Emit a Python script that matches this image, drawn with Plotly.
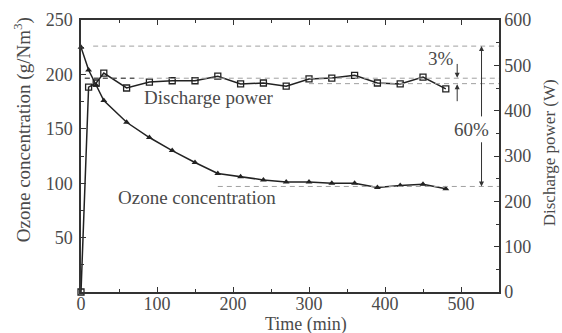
import plotly.graph_objects as go

# Data
time_min = [0, 10, 20, 30, 60, 90, 120, 150, 180, 210, 240, 270, 300, 330, 360, 390, 420, 450, 480]
ozone_conc = [225, 204, 190, 176, 156, 142, 130, 119, 109, 106, 103, 101, 101, 100, 100, 96, 98, 99, 95]
power_time = [0, 10, 20, 30, 60, 90, 120, 150, 180, 210, 240, 270, 300, 330, 360, 390, 420, 450, 480]
discharge_power = [0, 452, 461, 483, 450, 463, 466, 466, 476, 459, 461, 454, 470, 472, 478, 461, 459, 474, 448]

x_ticks = [0, 100, 200, 300, 400, 500]
y_ticks = [50, 100, 150, 200, 250]
y2_ticks = [0, 100, 200, 300, 400, 500, 600]

# Reference levels (ozone axis units)
ref_top = 226
ref_power_hi = 196.5
ref_power_lo = 191.5
ref_ozone_end = 97

FONT = "Liberation Serif, Times New Roman, serif"
AX = "#333333"
LINE = "#222222"
GRAY = "#a0a0a0"
TXT = "#4a4a4a"

fig = go.Figure()
fig.add_trace(go.Scatter(x=time_min, y=ozone_conc, mode="lines+markers",
                         line=dict(color=LINE, width=1.5),
                         marker=dict(symbol="triangle-up", size=6, color=LINE),
                         showlegend=False, cliponaxis=False))
fig.add_trace(go.Scatter(x=power_time, y=discharge_power, yaxis="y2", mode="lines+markers",
                         line=dict(color=LINE, width=1.5),
                         marker=dict(symbol="square-open", size=6, color=LINE, line=dict(width=1.3)),
                         showlegend=False, cliponaxis=False))

DASH = "5px,4px"
shapes = [
    dict(type="line", xref="x", yref="y", x0=16, x1=550, y0=ref_top, y1=ref_top,
         line=dict(color=GRAY, width=1, dash=DASH)),
    dict(type="line", xref="x", yref="y", x0=5, x1=550, y0=ref_power_hi, y1=ref_power_hi,
         line=dict(color=GRAY, width=1, dash=DASH)),
    dict(type="line", xref="x", yref="y", x0=5, x1=70, y0=ref_power_hi, y1=ref_power_hi,
         line=dict(color="#333", width=1, dash=DASH)),
    dict(type="line", xref="x", yref="y", x0=300, x1=550, y0=ref_power_lo, y1=ref_power_lo,
         line=dict(color=GRAY, width=1, dash=DASH)),
    dict(type="line", xref="x", yref="y", x0=180, x1=550, y0=ref_ozone_end, y1=ref_ozone_end,
         line=dict(color=GRAY, width=1, dash=DASH)),
]

ann = []
def arrow(x, y_from, y_to):
    ann.append(dict(x=x, y=y_to, ax=x, ay=y_from, xref="x", yref="y", axref="x", ayref="y",
                    showarrow=True, arrowhead=2, arrowsize=1, arrowwidth=1, arrowcolor="#333", text=""))

arrow(527, 160, ref_top)
arrow(527, 139, ref_ozone_end)
arrow(495, 211, ref_power_hi + 0.5)
arrow(495, 174, ref_power_lo - 0.5)

tfont = dict(family=FONT, size=19, color=TXT)
ann.append(dict(x=514, y=149, xref="x", yref="y", text="60%", showarrow=False, font=tfont))
ann.append(dict(x=474, y=215, xref="x", yref="y", text="3%", showarrow=False, font=tfont))
ann.append(dict(x=168, y=179, xref="x", yref="y", text="Discharge power", showarrow=False, font=tfont))
ann.append(dict(x=152, y=87, xref="x", yref="y", text="Ozone concentration", showarrow=False, font=tfont))

# Axis titles
ann.append(dict(x=0.538, y=0, xref="paper", yref="paper", yshift=-32, yanchor="middle",
                text="Time (min)", showarrow=False, font=dict(family=FONT, size=18, color=TXT)))
ann.append(dict(x=0, y=0.595, xref="paper", yref="paper", xshift=-59, xanchor="center",
                text="Ozone concentration (g/Nm<sup>3</sup>)", textangle=-90, showarrow=False,
                font=dict(family=FONT, size=19, color=TXT)))
ann.append(dict(x=1, y=0.51, xref="paper", yref="paper", xshift=50, xanchor="center",
                text="Discharge power (W)", textangle=-90, showarrow=False,
                font=dict(family=FONT, size=17, color=TXT)))

fig.update_layout(
    width=562, height=333,
    margin=dict(l=81, r=63, t=20, b=41, autoexpand=False),
    plot_bgcolor="white", paper_bgcolor="white",
    font=dict(family=FONT, size=18, color=TXT),
    shapes=shapes, annotations=ann,
    xaxis=dict(range=[0, 550], tickvals=x_ticks, automargin=False, ticklabelstandoff=-5,
               showline=True, linecolor=AX, linewidth=1.5, mirror="ticks",
               ticks="inside", ticklen=5, tickcolor=AX, showgrid=False, zeroline=False,
               minor=dict(dtick=50, ticks="inside", ticklen=3, tickcolor=AX)),
    yaxis=dict(range=[0, 250], tickvals=y_ticks, automargin=False, ticklabelstandoff=3,
               showline=True, linecolor=AX, linewidth=1.5,
               ticks="inside", ticklen=5, tickcolor=AX, showgrid=False, zeroline=False,
               minor=dict(dtick=25, ticks="inside", ticklen=3, tickcolor=AX)),
    yaxis2=dict(range=[0, 600], tickvals=y2_ticks, overlaying="y", side="right", automargin=False,
                showline=True, linecolor=AX, linewidth=1.5,
                ticks="inside", ticklen=5, tickcolor=AX, showgrid=False, zeroline=False,
                minor=dict(dtick=50, ticks="inside", ticklen=3, tickcolor=AX)),
)

fig.write_html("out.html", config={"displayModeBar": False},
               post_script="document.body.style.margin='0';")
